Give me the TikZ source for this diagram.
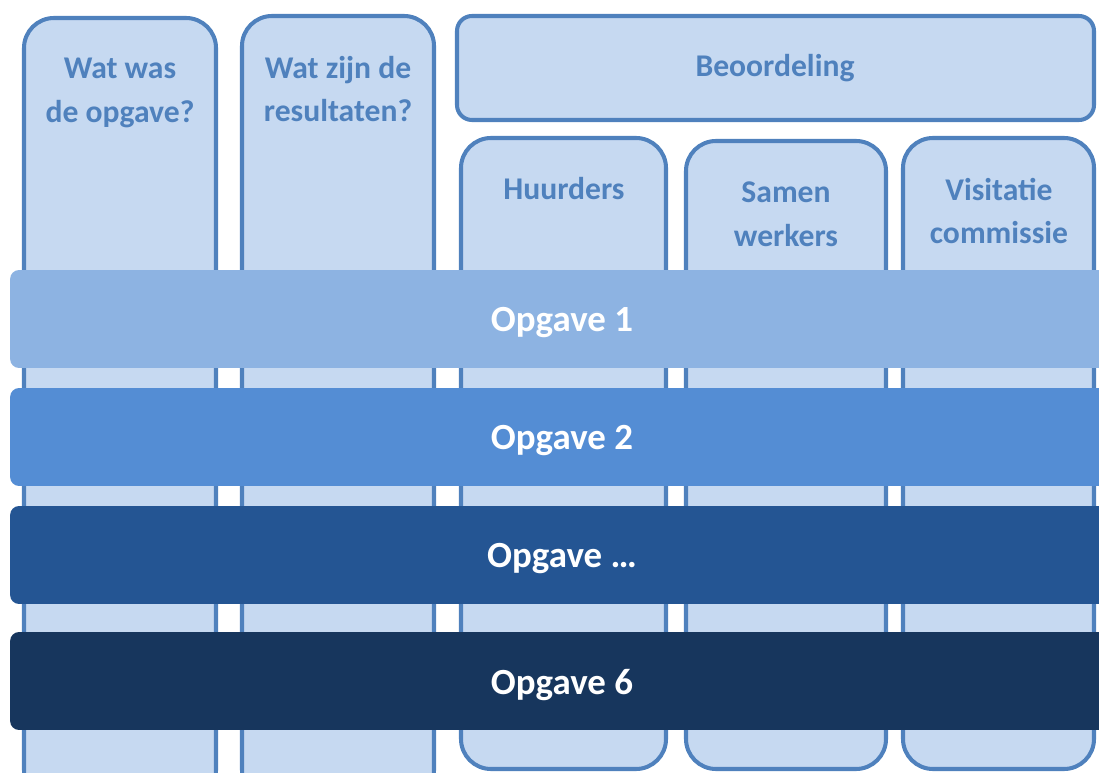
\documentclass[tikz,border=0pt]{standalone}
\usepackage{fontspec}
\setmainfont{Carlito}
\usepackage{tikz}
\usetikzlibrary{calc}

\definecolor{kolomrand}{HTML}{4F81BD}
\definecolor{kolomvul}{HTML}{C6D9F1}
\definecolor{balk1}{HTML}{8DB3E2}
\definecolor{balk2}{HTML}{548DD4}
\definecolor{balk3}{HTML}{245593}
\definecolor{balk4}{HTML}{17365D}

\tikzset{
    kolom/.style={draw=kolomrand, fill=kolomvul, line width=2.3pt, rounded corners=0.6cm},
    kop/.style={draw=kolomrand, fill=kolomvul, line width=2.3pt, rounded corners=0.3cm},
    koptekst/.style={text=kolomrand, font=\fontsize{18}{25}\selectfont\bfseries, align=center},
    balk/.style={rectangle, rounded corners=0.18cm, minimum width=22.2cm, minimum height=1.96cm},
    balktekst/.style={text=white, font=\fontsize{21}{25}\selectfont\bfseries}
}

\begin{document}
\begin{tikzpicture}[x=0.02cm,y=-0.02cm]
        \useasboundingbox (0,0) rectangle (1099,773);
        \clip (0,0) rectangle (1099,773);
        % kolommen
        \draw[kolom] (24,18) rectangle (216,800);
        \draw[kolom] (242,16) rectangle (434,800);
        \draw[kop] (457,16) rectangle (1094,120);
        \draw[kolom] (461,138) rectangle (666,769);
        \draw[kolom] (686,141) rectangle (886,769);
        \draw[kolom] (903,138) rectangle (1094,769);
        \node[koptekst] (opgave) at (120,93) {Wat was\\de opgave?};
        \node[koptekst] (resultaten) at (338,89) {Wat zijn de\\resultaten?};
        \node[koptekst] (beoordeling) at (775,68) {Beoordeling};
        \node[koptekst] (huurders) at (564,189) {Huurders};
        \node[koptekst] (samenwerkers) at (786,214) {Samen\\werkers};
        \node[koptekst] (visitatie) at (999,211) {Visitatie\\commissie};
        % balken
        \foreach \i/\y/\kleur/\tekst in {1/319/balk1/Opgave 1, 2/437/balk2/Opgave 2,
                3/555/balk3/Opgave …, 6/681/balk4/Opgave 6}
        {
        \node[balk, fill=\kleur] (balk\i) at (565,\y) {};
        \node[balktekst] (tekst\i) at ($(balk\i.center)+(-3,4)$) {\tekst};
        }
    \end{tikzpicture}
\end{document}
